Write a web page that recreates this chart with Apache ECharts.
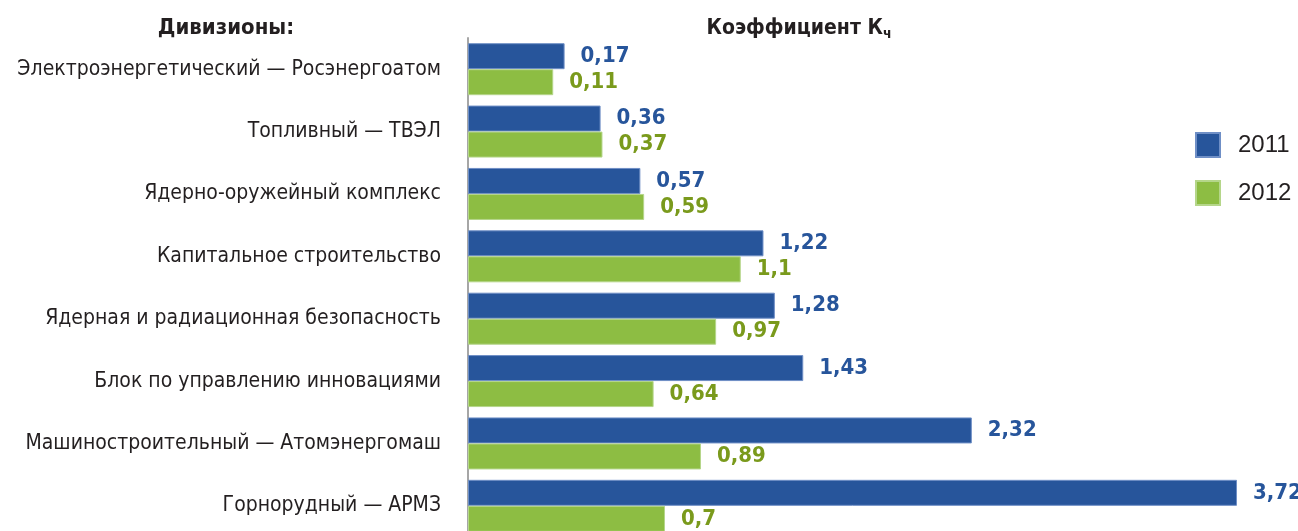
<!DOCTYPE html>
<html><head><meta charset="utf-8">
<script src="https://cdn.jsdelivr.net/npm/echarts@6/dist/echarts.min.js"></script>
<style>html,body{margin:0;padding:0;background:#fff}#c{width:1298px;height:531px}</style>
</head><body><div id="c"></div>
<script>
const categories = ['Электроэнергетический — Росэнергоатом','Топливный — ТВЭЛ','Ядерно-оружейный комплекс','Капитальное строительство','Ядерная и радиационная безопасность','Блок по управлению инновациями','Машиностроительный — Атомэнергомаш','Горнорудный — АРМЗ'];
const years = ['2011','2012'];
const values2011 = [0.17,0.36,0.57,1.22,1.28,1.43,2.32,3.72];
const values2012 = [0.11,0.37,0.59,1.1,0.97,0.64,0.89,0.7];
const axisStart = -0.34;
const axisEnd = 3.72;

const FONT = '"Liberation Sans Narrow","DejaVu Sans Condensed","Liberation Sans",sans-serif';
const BLUE = '#27559b', GREEN = '#8dbd43';
const fmt = p => String(p.value).replace('.', ',');

const chart = echarts.init(document.getElementById('c'));
chart.setOption({
  animation: false,
  textStyle: {fontFamily: FONT},
  title: [
    {text: 'Дивизионы:', left: 221, top: 12, textAlign: 'center',
     textStyle: {fontFamily: FONT, fontSize: 22, fontWeight: 'bold', color: '#231f20'}},
    {text: '{a|Коэффициент К}{s|ч}', left: 794, top: 12, textAlign: 'center',
     textStyle: {rich: {
       a: {fontFamily: FONT, fontSize: 21, fontWeight: 'bold', color: '#231f20'},
       s: {fontFamily: FONT, fontSize: 14, fontWeight: 'bold', color: '#231f20', padding: [10,0,0,0]}
     }}}
  ],
  legend: {
    orient: 'vertical', left: 1190, top: 127, itemWidth: 24, itemHeight: 24, itemGap: 22,
    icon: 'rect',
    textStyle: {fontFamily: '"Liberation Sans",Arial,sans-serif', fontSize: 24, color: '#231f20', padding: [0,0,0,13]},
    data: years
  },
  grid: {left: 468, right: 61, top: 38, height: 499, containLabel: false, outerBoundsMode: 'none'},
  xAxis: {type: 'value', min: axisStart, max: axisEnd, startValue: axisStart, show: false},
  yAxis: {
    type: 'category', data: categories, inverse: true,
    axisLine: {show: true, onZero: false, lineStyle: {color: '#a6a6a6', width: 2}},
    axisTick: {show: false},
    axisLabel: {fontFamily: FONT, fontSize: 21, color: '#231f20', margin: 27}
  },
  series: [
    {name: years[0], type: 'bar', data: values2011, barWidth: 26, barGap: '0%',
     itemStyle: {color: BLUE, borderColor: '#6f8fc6', borderWidth: 1},
     label: {show: true, position: 'right', distance: 16, formatter: fmt,
       fontFamily: FONT, fontSize: 22, fontWeight: 'bold', color: BLUE}},
    {name: years[1], type: 'bar', data: values2012, barWidth: 26,
     itemStyle: {color: GREEN, borderColor: '#b5d68a', borderWidth: 1},
     label: {show: true, position: 'right', distance: 16, formatter: fmt,
       fontFamily: FONT, fontSize: 22, fontWeight: 'bold', color: '#7a9a1c'}}
  ]
});
</script></body></html>
